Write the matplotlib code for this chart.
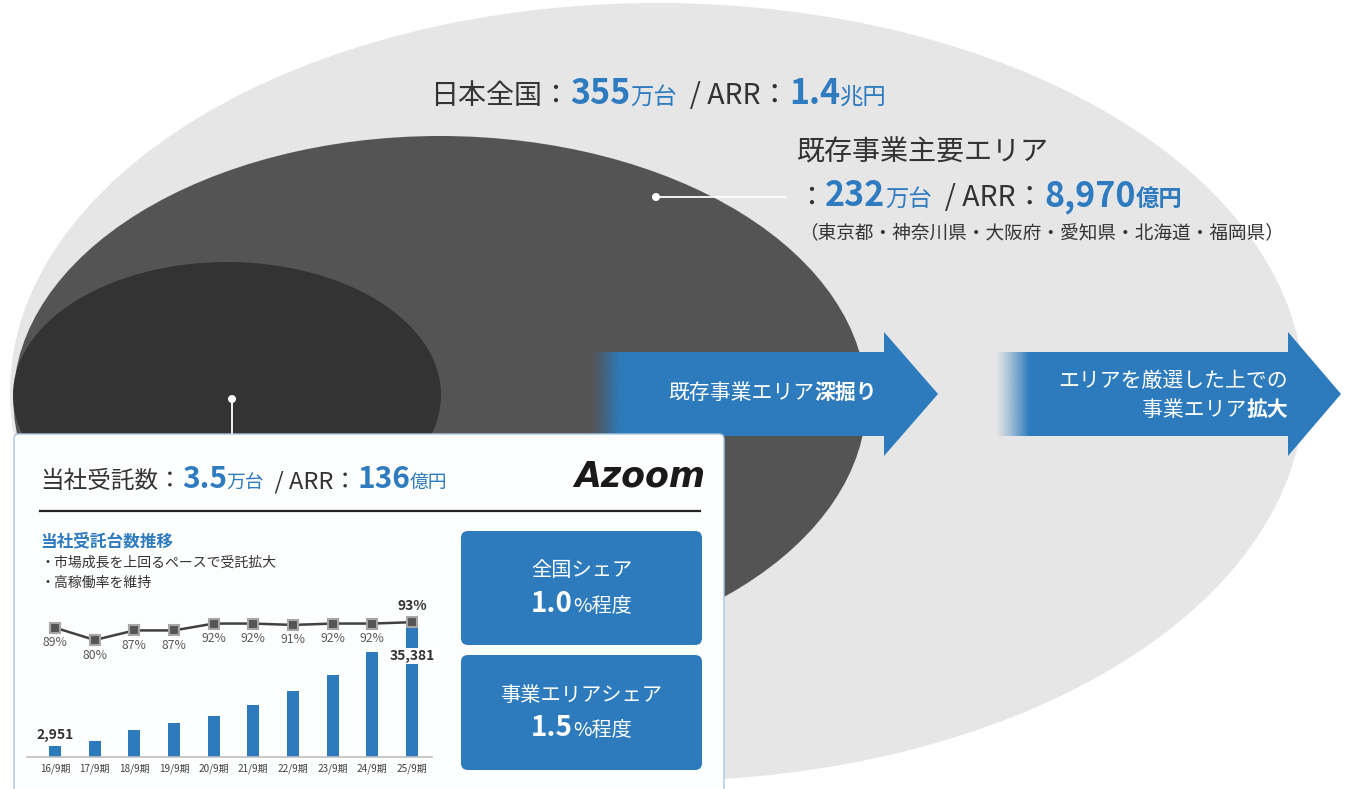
import matplotlib
matplotlib.use('Agg')
import matplotlib.pyplot as plt
import numpy as np
from matplotlib.patches import Ellipse, Polygon, FancyBboxPatch, Circle
from matplotlib.font_manager import FontProperties
import matplotlib.colors as mcolors

FAM = ['Noto Sans CJK JP', 'DejaVu Sans']
plt.rcParams['font.family'] = FAM

# ---------------- data ----------------
periods = ['16/9期', '17/9期', '18/9期', '19/9期', '20/9期',
           '21/9期', '22/9期', '23/9期', '24/9期', '25/9期']
units = [2951, 4440, 7350, 9340, 11160, 14150, 17960, 22400, 28580, 35381]
rates = [89, 80, 87, 87, 92, 92, 91, 92, 92, 93]

national_units = '355'
national_arr = '1.4'
area_units = '232'
area_arr = '8,970'
own_units = '3.5'
own_arr = '136'
share_national = '1.0'
share_area = '1.5'

BLUE = '#2E7BBF'
DARK = '#333333'
W, H = 1349, 789

fig = plt.figure(figsize=(W / 100, H / 100), dpi=100)
ax = fig.add_axes([0, 0, 1, 1])
ax.set_autoscale_on(False)
ax.set_xlim(0, W)
ax.set_ylim(H, 0)
ax.axis('off')

R = fig.canvas.get_renderer()


def adv(s, size, weight):
    fp = FontProperties(family=FAM, size=size, weight=weight)
    w1 = R.get_text_width_height_descent('|' + s + '|', fp, False)[0]
    w0 = R.get_text_width_height_descent('||', fp, False)[0]
    return w1 - w0


def rich(x, y, parts, ha='left', zorder=10):
    ws = [adv(s, sz, wt) for s, sz, wt, c in parts]
    tot = sum(ws)
    if ha == 'center':
        x -= tot / 2
    elif ha == 'right':
        x -= tot
    for (s, sz, wt, c), w in zip(parts, ws):
        ax.text(x, y, s, fontsize=sz, fontweight=wt, color=c,
                ha='left', va='baseline', zorder=zorder)
        x += w


# ---------------- ellipses ----------------
ax.add_patch(Ellipse((657, 392), 1294, 778, facecolor='#E6E6E6', edgecolor='none', zorder=1))
ax.add_patch(Ellipse((440, 400), 853, 528, facecolor='#545454', edgecolor='none', zorder=2))
ax.add_patch(Ellipse((227, 395), 428, 266, facecolor='#333333', edgecolor='none', zorder=3))


# ---------------- arrows ----------------
def arrow(x0, x1, xt, yb0, yb1, yh0, yh1, fade):
    yc = (yh0 + yh1) / 2
    pts = [(x0, yb0), (x1, yb0), (x1, yh0), (xt, yc), (x1, yh1), (x1, yb1), (x0, yb1)]
    poly = Polygon(pts, closed=True, facecolor='none', edgecolor='none', zorder=4)
    ax.add_patch(poly)
    n = 600
    xs = np.linspace(x0, xt, n)
    alpha = np.clip((xs - x0) / fade, 0, 1) ** 1.2
    img = np.zeros((1, n, 4))
    img[..., :3] = mcolors.to_rgb('#2D7BBD')
    img[0, :, 3] = alpha
    im = ax.imshow(img, extent=(x0, xt, yh1, yh0), aspect='auto',
                   interpolation='bilinear', zorder=4)
    im.set_clip_path(poly)


arrow(590, 884, 938, 352, 436, 332, 456, 30)
arrow(995, 1288, 1341, 352, 436, 332, 456, 34)

ax.set_xlim(0, W)
ax.set_ylim(H, 0)

rich(773, 399, [('既存事業エリア', 15, 'normal', 'white'), ('深掘り', 15, 'bold', 'white')], ha='center')
rich(1288, 387, [('エリアを厳選した上での', 15, 'normal', 'white')], ha='right')
rich(1288, 416, [('事業エリア', 15, 'normal', 'white'), ('拡大', 15, 'bold', 'white')], ha='right')

# ---------------- pointer dots ----------------
ax.plot([656, 785], [197, 197], color='white', lw=1.3, zorder=5)
ax.add_patch(Circle((656, 197), 4, facecolor='white', edgecolor='none', zorder=5))
ax.plot([232, 232], [399, 436], color='white', lw=1.3, zorder=5)
ax.add_patch(Circle((232, 399), 4, facecolor='white', edgecolor='none', zorder=5))

# ---------------- top texts ----------------
rich(430, 104, [('日本全国：', 20.2, 'normal', DARK),
                (national_units, 24.5, 'bold', BLUE),
                ('万台', 16.8, 'normal', BLUE),
                ('  / ARR：', 20.5, 'normal', DARK),
                (national_arr, 24.5, 'bold', BLUE),
                ('兆円', 16.8, 'normal', BLUE)])

rich(797, 161, [('既存事業主要エリア', 20.2, 'normal', DARK)])
rich(797, 206, [('：', 20.2, 'normal', DARK),
                (area_units, 24.5, 'bold', BLUE),
                ('万台', 16.8, 'normal', BLUE),
                ('  / ARR：', 20.5, 'normal', DARK),
                (area_arr, 24.5, 'bold', BLUE),
                ('億円', 16.8, 'bold', BLUE)])
rich(799, 238, [('（東京都・神奈川県・大阪府・愛知県・北海道・福岡県）', 13.4, 'normal', DARK)])

# ---------------- white panel ----------------
ax.add_patch(FancyBboxPatch((14, 434), 710, 380, boxstyle='round,pad=0,rounding_size=5',
                            facecolor='#FDFEFE', edgecolor='#A9C8E0', lw=1, zorder=6))

rich(40, 488, [('当社受託数：', 17, 'normal', DARK),
               (own_units, 21.5, 'bold', BLUE),
               ('万台', 13.5, 'normal', BLUE),
               ('  / ARR：', 17, 'normal', DARK),
               (own_arr, 21.5, 'bold', BLUE),
               ('億円', 13.5, 'normal', BLUE)])

ax.text(640, 476, 'Azoom', fontsize=25, fontweight='heavy', style='italic',
        family='DejaVu Sans', color='#1A1A1A', ha='center', va='center', zorder=10)

ax.plot([40, 700], [510.5, 510.5], color='#222222', lw=1.6, zorder=7)

ax.text(40, 546, '当社受託台数推移', fontsize=12, fontweight='bold', color=BLUE,
        ha='left', va='baseline', zorder=10)
ax.text(40, 567, '・市場成長を上回るペースで受託拡大', fontsize=10, color=DARK,
        ha='left', va='baseline', zorder=10)
ax.text(40, 587, '・高稼働率を維持', fontsize=10, color=DARK,
        ha='left', va='baseline', zorder=10)

# ---------------- share boxes ----------------
for (y0, y1, title, val, tb, vb) in [(531, 645, '全国シェア', share_national, 576, 612),
                                     (655, 770, '事業エリアシェア', share_area, 701, 736)]:
    ax.add_patch(FancyBboxPatch((461, y0), 241, y1 - y0,
                                boxstyle='round,pad=0,rounding_size=7',
                                facecolor='#2D7BBD', edgecolor='none', zorder=7))
    rich(581.5, tb, [(title, 14.6, 'normal', 'white')], ha='center')
    rich(581.5, vb, [(val, 20, 'bold', 'white'), ('%程度', 14.5, 'normal', 'white')], ha='center')

# ---------------- chart ----------------
cax = fig.add_axes([27 / W, (H - 757) / H, (432 - 27) / W, 157 / H])
cax.patch.set_visible(False)
xs = np.arange(len(periods))
cax.bar(xs, units, width=0.3, color='#2D7BBD', zorder=2)
cax.set_xlim(-0.706, 9.504)
cax.set_ylim(0, 157 * 272.2)
cax.set_xticks(xs, periods, fontsize=7.2, color='#404040')
cax.tick_params(axis='x', length=0, pad=5)
cax.set_yticks([])
for s in ['top', 'left', 'right']:
    cax.spines[s].set_visible(False)
cax.spines['bottom'].set_color('#BFBFBF')
cax.spines['bottom'].set_linewidth(1.2)

cax.annotate(f'{units[0]:,}', (xs[0], units[0]), xytext=(0, 11), textcoords='offset pixels',
             ha='center', va='center', fontsize=10, fontweight='bold', color=DARK, zorder=5)
cax.annotate(f'{units[-1]:,}', (xs[-1], units[-1]), xytext=(0, -29), textcoords='offset pixels',
             ha='center', va='center', fontsize=10, fontweight='bold', color=DARK, zorder=5,
             bbox=dict(boxstyle='square,pad=0.1', facecolor='white', edgecolor='none'))

tax = cax.twinx()
tax.patch.set_visible(False)
tax.set_ylim(-5.4, 109.2)
tax.set_yticks([])
for s in tax.spines.values():
    s.set_visible(False)
tax.plot(xs, rates, color='#404040', lw=1.8, marker='s', markersize=7,
         markerfacecolor='#555555', markeredgecolor='#A6A6A6', markeredgewidth=1.5, zorder=3)
for i, r in enumerate(rates):
    if i == len(rates) - 1:
        tax.annotate(f'{r}%', (xs[i], r), xytext=(0, 16), textcoords='offset pixels',
                     ha='center', va='center', fontsize=10, fontweight='bold', color=DARK)
    else:
        tax.annotate(f'{r}%', (xs[i], r), xytext=(0, -15), textcoords='offset pixels',
                     ha='center', va='center', fontsize=8.8, color='#595959')

fig.savefig('out.png', dpi=100, facecolor='white')
